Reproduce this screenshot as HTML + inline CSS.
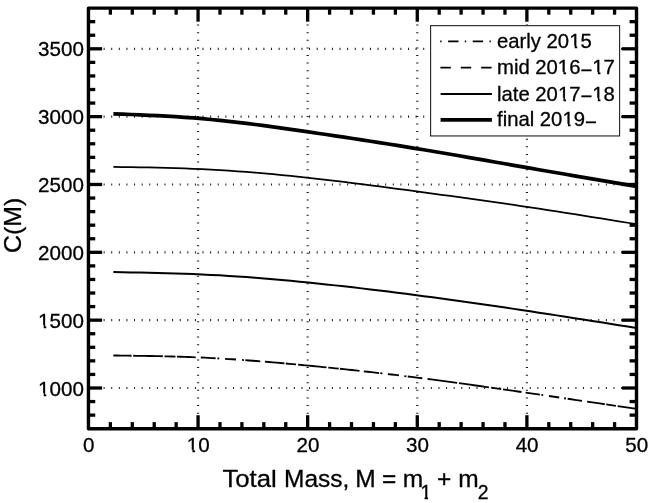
<!DOCTYPE html>
<html lang="en"><head><meta charset="utf-8"><title>C(M) vs Total Mass</title>
<style>html,body{margin:0;padding:0;background:#fff}body{width:650px;height:503px;overflow:hidden}</style>
</head><body>
<svg width="650" height="503" viewBox="0 0 650 503" style="display:block">
<rect x="0" y="0" width="650" height="503" fill="#fff"/>
<g stroke="#1a1a1a" stroke-width="2.2" fill="none">
<line x1="88.38" y1="388.00" x2="636.50" y2="388.00" stroke-dasharray="1.0 6.61"/>
<line x1="88.38" y1="320.16" x2="636.50" y2="320.16" stroke-dasharray="1.0 6.61"/>
<line x1="88.38" y1="252.32" x2="636.50" y2="252.32" stroke-dasharray="1.0 6.61"/>
<line x1="88.38" y1="184.48" x2="636.50" y2="184.48" stroke-dasharray="1.0 6.61"/>
<line x1="88.38" y1="116.64" x2="636.50" y2="116.64" stroke-dasharray="1.0 6.61"/>
<line x1="88.38" y1="48.80" x2="636.50" y2="48.80" stroke-dasharray="1.0 6.61"/>
<line x1="198.06" y1="428.90" x2="198.06" y2="8.10" stroke-dasharray="1.0 6.61"/>
<line x1="307.67" y1="428.90" x2="307.67" y2="8.10" stroke-dasharray="1.0 6.61"/>
<line x1="417.28" y1="428.90" x2="417.28" y2="8.10" stroke-dasharray="1.0 6.61"/>
<line x1="526.89" y1="428.90" x2="526.89" y2="8.10" stroke-dasharray="1.0 6.61"/>
</g>
<path d="M113.40 113.80 L122.27 114.15 L131.13 114.51 L140.00 114.88 L148.86 115.28 L157.73 115.71 L166.60 116.19 L175.46 116.72 L184.33 117.30 L193.19 117.96 L202.06 118.69 L210.93 119.50 L219.79 120.38 L228.66 121.33 L237.53 122.34 L246.39 123.41 L255.26 124.52 L264.12 125.68 L272.99 126.87 L281.86 128.10 L290.72 129.35 L299.59 130.63 L308.45 131.91 L317.32 133.21 L326.19 134.52 L335.05 135.84 L343.92 137.16 L352.78 138.51 L361.65 139.86 L370.52 141.23 L379.38 142.61 L388.25 144.01 L397.12 145.42 L405.98 146.85 L414.85 148.30 L423.71 149.77 L432.58 151.25 L441.45 152.75 L450.31 154.26 L459.18 155.79 L468.04 157.32 L476.91 158.86 L485.78 160.41 L494.64 161.96 L503.51 163.51 L512.37 165.07 L521.24 166.62 L530.11 168.16 L538.97 169.70 L547.84 171.23 L556.71 172.76 L565.57 174.29 L574.44 175.81 L583.30 177.33 L592.17 178.85 L601.04 180.36 L609.90 181.87 L618.77 183.38 L627.63 184.89 L636.50 186.40" stroke="#000" stroke-width="3.7" fill="none"/>
<path d="M113.40 166.90 L122.27 167.03 L131.13 167.17 L140.00 167.32 L148.86 167.48 L157.73 167.68 L166.60 167.89 L175.46 168.15 L184.33 168.45 L193.19 168.79 L202.06 169.19 L210.93 169.64 L219.79 170.14 L228.66 170.70 L237.53 171.31 L246.39 171.96 L255.26 172.67 L264.12 173.42 L272.99 174.21 L281.86 175.04 L290.72 175.92 L299.59 176.83 L308.45 177.79 L317.32 178.77 L326.19 179.79 L335.05 180.84 L343.92 181.92 L352.78 183.02 L361.65 184.14 L370.52 185.28 L379.38 186.44 L388.25 187.61 L397.12 188.79 L405.98 189.98 L414.85 191.17 L423.71 192.37 L432.58 193.57 L441.45 194.77 L450.31 195.98 L459.18 197.19 L468.04 198.42 L476.91 199.65 L485.78 200.89 L494.64 202.15 L503.51 203.42 L512.37 204.71 L521.24 206.01 L530.11 207.33 L538.97 208.67 L547.84 210.03 L556.71 211.40 L565.57 212.79 L574.44 214.19 L583.30 215.60 L592.17 217.02 L601.04 218.44 L609.90 219.88 L618.77 221.32 L627.63 222.76 L636.50 224.20" stroke="#000" stroke-width="1.75" fill="none"/>
<path d="M113.40 272.10 L122.27 272.24 L131.13 272.39 L140.00 272.55 L148.86 272.72 L157.73 272.92 L166.60 273.15 L175.46 273.40 L184.33 273.70 L193.19 274.04 L202.06 274.43 L210.93 274.88 L219.79 275.37 L228.66 275.91 L237.53 276.49 L246.39 277.12 L255.26 277.79 L264.12 278.51 L272.99 279.25 L281.86 280.04 L290.72 280.85 L299.59 281.70 L308.45 282.58 L317.32 283.48 L326.19 284.41 L335.05 285.37 L343.92 286.35 L352.78 287.36 L361.65 288.38 L370.52 289.43 L379.38 290.51 L388.25 291.60 L397.12 292.71 L405.98 293.84 L414.85 294.98 L423.71 296.15 L432.58 297.33 L441.45 298.52 L450.31 299.73 L459.18 300.96 L468.04 302.20 L476.91 303.46 L485.78 304.73 L494.64 306.01 L503.51 307.31 L512.37 308.62 L521.24 309.95 L530.11 311.29 L538.97 312.64 L547.84 314.00 L556.71 315.37 L565.57 316.75 L574.44 318.14 L583.30 319.53 L592.17 320.94 L601.04 322.34 L609.90 323.75 L618.77 325.17 L627.63 326.58 L636.50 328.00" stroke="#000" stroke-width="2.0" fill="none"/>
<path d="M113.40 355.50 L117.04 355.54 L120.68 355.59 L124.32 355.63 L127.96 355.68 L131.60 355.73" stroke="#000" stroke-width="1.85" fill="none"/>
<path d="M133.20 355.75 L136.90 355.80 L140.60 355.86 L144.30 355.92 L148.00 355.98 L151.70 356.04 L155.40 356.11 L159.10 356.19 L162.80 356.27" stroke="#000" stroke-width="1.85" fill="none"/>
<path d="M164.50 356.31 L168.17 356.40 L171.83 356.49 L175.50 356.60" stroke="#000" stroke-width="1.85" fill="none"/>
<path d="M177.00 356.64 L180.74 356.75 L184.48 356.88 L188.22 357.01 L191.96 357.15 L195.70 357.30" stroke="#000" stroke-width="1.85" fill="none"/>
<path d="M200.80 357.52 L204.50 357.69 L208.20 357.88 L211.90 358.07 L215.60 358.27" stroke="#000" stroke-width="1.85" fill="none"/>
<path d="M217.40 358.37 L219.20 358.47" stroke="#000" stroke-width="1.85" fill="none"/>
<path d="M225.00 358.82 L228.67 359.05 L232.33 359.28 L236.00 359.53" stroke="#000" stroke-width="1.85" fill="none"/>
<path d="M242.00 359.95 L243.90 360.08" stroke="#000" stroke-width="1.85" fill="none"/>
<path d="M245.30 360.18 L249.05 360.46 L252.80 360.74 L256.55 361.03 L260.30 361.33" stroke="#000" stroke-width="1.85" fill="none"/>
<path d="M264.90 361.70 L268.82 362.03 L272.74 362.36 L276.66 362.70 L280.58 363.04 L284.50 363.39" stroke="#000" stroke-width="1.85" fill="none"/>
<path d="M285.80 363.51 L289.20 363.82 L292.60 364.13 L296.00 364.44" stroke="#000" stroke-width="1.85" fill="none"/>
<path d="M298.10 364.64 L301.65 364.97 L305.20 365.31 L308.75 365.65 L312.30 366.00 L315.85 366.35 L319.40 366.69 L322.95 367.05 L326.50 367.40" stroke="#000" stroke-width="1.85" fill="none"/>
<path d="M328.30 367.59 L331.80 367.94 L335.30 368.30 L338.80 368.66" stroke="#000" stroke-width="1.85" fill="none"/>
<path d="M340.00 368.79 L343.90 369.19 L347.80 369.61 L351.70 370.02 L355.60 370.44 L359.50 370.87" stroke="#000" stroke-width="1.85" fill="none"/>
<path d="M363.80 371.34 L367.62 371.76 L371.45 372.19 L375.27 372.62 L379.10 373.06" stroke="#000" stroke-width="1.85" fill="none"/>
<path d="M380.30 373.20 L382.40 373.44" stroke="#000" stroke-width="1.85" fill="none"/>
<path d="M387.80 374.07 L391.53 374.51 L395.27 374.95 L399.00 375.40" stroke="#000" stroke-width="1.85" fill="none"/>
<path d="M404.40 376.05 L406.40 376.30" stroke="#000" stroke-width="1.85" fill="none"/>
<path d="M407.80 376.47 L411.43 376.92 L415.05 377.37 L418.68 377.83 L422.30 378.29" stroke="#000" stroke-width="1.85" fill="none"/>
<path d="M427.60 378.97 L431.29 379.45 L434.97 379.93 L438.66 380.41 L442.35 380.90 L446.04 381.39 L449.72 381.89 L453.41 382.39 L457.10 382.89" stroke="#000" stroke-width="1.85" fill="none"/>
<path d="M458.90 383.14 L462.65 383.65 L466.40 384.17 L470.15 384.69 L473.90 385.21 L477.65 385.74 L481.40 386.27 L485.15 386.80 L488.90 387.33" stroke="#000" stroke-width="1.85" fill="none"/>
<path d="M491.20 387.65 L494.53 388.13 L497.87 388.61 L501.20 389.08" stroke="#000" stroke-width="1.85" fill="none"/>
<path d="M503.00 389.34 L506.70 389.88 L510.40 390.41 L514.10 390.94 L517.80 391.48 L521.50 392.02" stroke="#000" stroke-width="1.85" fill="none"/>
<path d="M525.60 392.61 L529.18 393.13 L532.75 393.65 L536.32 394.17 L539.90 394.70" stroke="#000" stroke-width="1.85" fill="none"/>
<path d="M541.40 394.91 L543.20 395.18" stroke="#000" stroke-width="1.85" fill="none"/>
<path d="M549.00 396.02 L552.40 396.52 L555.80 397.02 L559.20 397.52" stroke="#000" stroke-width="1.85" fill="none"/>
<path d="M564.20 398.25 L566.00 398.51" stroke="#000" stroke-width="1.85" fill="none"/>
<path d="M567.70 398.76 L571.28 399.29 L574.85 399.81 L578.43 400.34 L582.00 400.86" stroke="#000" stroke-width="1.85" fill="none"/>
<path d="M587.10 401.61 L590.64 402.14 L594.18 402.66 L597.72 403.18 L601.26 403.70 L604.80 404.22" stroke="#000" stroke-width="1.85" fill="none"/>
<path d="M606.20 404.43 L609.43 404.91 L612.67 405.38 L615.90 405.86" stroke="#000" stroke-width="1.85" fill="none"/>
<path d="M617.70 406.13 L621.20 406.64 L624.70 407.16 L628.20 407.67 L631.70 408.19 L635.20 408.71" stroke="#000" stroke-width="1.85" fill="none"/>
<g stroke="#000" stroke-width="3.3" fill="none">
<line x1="110.37" y1="428.70" x2="110.37" y2="422.10"/>
<line x1="110.37" y1="8.10" x2="110.37" y2="14.70"/>
<line x1="132.29" y1="428.70" x2="132.29" y2="422.10"/>
<line x1="132.29" y1="8.10" x2="132.29" y2="14.70"/>
<line x1="154.22" y1="428.70" x2="154.22" y2="422.10"/>
<line x1="154.22" y1="8.10" x2="154.22" y2="14.70"/>
<line x1="176.14" y1="428.70" x2="176.14" y2="422.10"/>
<line x1="176.14" y1="8.10" x2="176.14" y2="14.70"/>
<line x1="198.06" y1="428.70" x2="198.06" y2="415.20"/>
<line x1="198.06" y1="8.10" x2="198.06" y2="21.70"/>
<line x1="219.98" y1="428.70" x2="219.98" y2="422.10"/>
<line x1="219.98" y1="8.10" x2="219.98" y2="14.70"/>
<line x1="241.90" y1="428.70" x2="241.90" y2="422.10"/>
<line x1="241.90" y1="8.10" x2="241.90" y2="14.70"/>
<line x1="263.83" y1="428.70" x2="263.83" y2="422.10"/>
<line x1="263.83" y1="8.10" x2="263.83" y2="14.70"/>
<line x1="285.75" y1="428.70" x2="285.75" y2="422.10"/>
<line x1="285.75" y1="8.10" x2="285.75" y2="14.70"/>
<line x1="307.67" y1="428.70" x2="307.67" y2="415.20"/>
<line x1="307.67" y1="8.10" x2="307.67" y2="21.70"/>
<line x1="329.59" y1="428.70" x2="329.59" y2="422.10"/>
<line x1="329.59" y1="8.10" x2="329.59" y2="14.70"/>
<line x1="351.51" y1="428.70" x2="351.51" y2="422.10"/>
<line x1="351.51" y1="8.10" x2="351.51" y2="14.70"/>
<line x1="373.44" y1="428.70" x2="373.44" y2="422.10"/>
<line x1="373.44" y1="8.10" x2="373.44" y2="14.70"/>
<line x1="395.36" y1="428.70" x2="395.36" y2="422.10"/>
<line x1="395.36" y1="8.10" x2="395.36" y2="14.70"/>
<line x1="417.28" y1="428.70" x2="417.28" y2="415.20"/>
<line x1="417.28" y1="8.10" x2="417.28" y2="21.70"/>
<line x1="439.20" y1="428.70" x2="439.20" y2="422.10"/>
<line x1="439.20" y1="8.10" x2="439.20" y2="14.70"/>
<line x1="461.12" y1="428.70" x2="461.12" y2="422.10"/>
<line x1="461.12" y1="8.10" x2="461.12" y2="14.70"/>
<line x1="483.05" y1="428.70" x2="483.05" y2="422.10"/>
<line x1="483.05" y1="8.10" x2="483.05" y2="14.70"/>
<line x1="504.97" y1="428.70" x2="504.97" y2="422.10"/>
<line x1="504.97" y1="8.10" x2="504.97" y2="14.70"/>
<line x1="526.89" y1="428.70" x2="526.89" y2="415.20"/>
<line x1="526.89" y1="8.10" x2="526.89" y2="21.70"/>
<line x1="548.81" y1="428.70" x2="548.81" y2="422.10"/>
<line x1="548.81" y1="8.10" x2="548.81" y2="14.70"/>
<line x1="570.73" y1="428.70" x2="570.73" y2="422.10"/>
<line x1="570.73" y1="8.10" x2="570.73" y2="14.70"/>
<line x1="592.66" y1="428.70" x2="592.66" y2="422.10"/>
<line x1="592.66" y1="8.10" x2="592.66" y2="14.70"/>
<line x1="614.58" y1="428.70" x2="614.58" y2="422.10"/>
<line x1="614.58" y1="8.10" x2="614.58" y2="14.70"/>
<line x1="88.45" y1="415.13" x2="95.25" y2="415.13"/>
<line x1="636.50" y1="415.13" x2="629.60" y2="415.13"/>
<line x1="88.45" y1="401.56" x2="95.25" y2="401.56"/>
<line x1="636.50" y1="401.56" x2="629.60" y2="401.56"/>
<line x1="88.45" y1="388.00" x2="102.10" y2="388.00"/>
<line x1="636.50" y1="388.00" x2="622.00" y2="388.00"/>
<line x1="88.45" y1="374.43" x2="95.25" y2="374.43"/>
<line x1="636.50" y1="374.43" x2="629.60" y2="374.43"/>
<line x1="88.45" y1="360.86" x2="95.25" y2="360.86"/>
<line x1="636.50" y1="360.86" x2="629.60" y2="360.86"/>
<line x1="88.45" y1="347.29" x2="95.25" y2="347.29"/>
<line x1="636.50" y1="347.29" x2="629.60" y2="347.29"/>
<line x1="88.45" y1="333.73" x2="95.25" y2="333.73"/>
<line x1="636.50" y1="333.73" x2="629.60" y2="333.73"/>
<line x1="88.45" y1="320.16" x2="102.10" y2="320.16"/>
<line x1="636.50" y1="320.16" x2="622.00" y2="320.16"/>
<line x1="88.45" y1="306.59" x2="95.25" y2="306.59"/>
<line x1="636.50" y1="306.59" x2="629.60" y2="306.59"/>
<line x1="88.45" y1="293.02" x2="95.25" y2="293.02"/>
<line x1="636.50" y1="293.02" x2="629.60" y2="293.02"/>
<line x1="88.45" y1="279.45" x2="95.25" y2="279.45"/>
<line x1="636.50" y1="279.45" x2="629.60" y2="279.45"/>
<line x1="88.45" y1="265.89" x2="95.25" y2="265.89"/>
<line x1="636.50" y1="265.89" x2="629.60" y2="265.89"/>
<line x1="88.45" y1="252.32" x2="102.10" y2="252.32"/>
<line x1="636.50" y1="252.32" x2="622.00" y2="252.32"/>
<line x1="88.45" y1="238.75" x2="95.25" y2="238.75"/>
<line x1="636.50" y1="238.75" x2="629.60" y2="238.75"/>
<line x1="88.45" y1="225.18" x2="95.25" y2="225.18"/>
<line x1="636.50" y1="225.18" x2="629.60" y2="225.18"/>
<line x1="88.45" y1="211.62" x2="95.25" y2="211.62"/>
<line x1="636.50" y1="211.62" x2="629.60" y2="211.62"/>
<line x1="88.45" y1="198.05" x2="95.25" y2="198.05"/>
<line x1="636.50" y1="198.05" x2="629.60" y2="198.05"/>
<line x1="88.45" y1="184.48" x2="102.10" y2="184.48"/>
<line x1="636.50" y1="184.48" x2="622.00" y2="184.48"/>
<line x1="88.45" y1="170.91" x2="95.25" y2="170.91"/>
<line x1="636.50" y1="170.91" x2="629.60" y2="170.91"/>
<line x1="88.45" y1="157.35" x2="95.25" y2="157.35"/>
<line x1="636.50" y1="157.35" x2="629.60" y2="157.35"/>
<line x1="88.45" y1="143.78" x2="95.25" y2="143.78"/>
<line x1="636.50" y1="143.78" x2="629.60" y2="143.78"/>
<line x1="88.45" y1="130.21" x2="95.25" y2="130.21"/>
<line x1="636.50" y1="130.21" x2="629.60" y2="130.21"/>
<line x1="88.45" y1="116.64" x2="102.10" y2="116.64"/>
<line x1="636.50" y1="116.64" x2="622.00" y2="116.64"/>
<line x1="88.45" y1="103.07" x2="95.25" y2="103.07"/>
<line x1="636.50" y1="103.07" x2="629.60" y2="103.07"/>
<line x1="88.45" y1="89.51" x2="95.25" y2="89.51"/>
<line x1="636.50" y1="89.51" x2="629.60" y2="89.51"/>
<line x1="88.45" y1="75.94" x2="95.25" y2="75.94"/>
<line x1="636.50" y1="75.94" x2="629.60" y2="75.94"/>
<line x1="88.45" y1="62.37" x2="95.25" y2="62.37"/>
<line x1="636.50" y1="62.37" x2="629.60" y2="62.37"/>
<line x1="88.45" y1="48.80" x2="102.10" y2="48.80"/>
<line x1="636.50" y1="48.80" x2="622.00" y2="48.80"/>
<line x1="88.45" y1="35.24" x2="95.25" y2="35.24"/>
<line x1="636.50" y1="35.24" x2="629.60" y2="35.24"/>
<line x1="88.45" y1="21.67" x2="95.25" y2="21.67"/>
<line x1="636.50" y1="21.67" x2="629.60" y2="21.67"/>
</g>
<rect x="88.45" y="8.10" width="548.05" height="420.60" fill="none" stroke="#000" stroke-width="3.4" stroke-linejoin="round"/>
<rect x="430.6" y="25.65" width="189.0" height="110.3" fill="#fff" stroke="#222" stroke-width="1.1"/>
<line x1="440.2" y1="41.4" x2="491.2" y2="41.4" stroke="#000" stroke-width="1.8" stroke-dasharray="1.4 6.5 10.4 6.3"/>
<line x1="440.4" y1="67.7" x2="491.7" y2="67.7" stroke="#000" stroke-width="1.8" stroke-dasharray="10.4 10"/>
<line x1="440.6" y1="93.95" x2="491.9" y2="93.95" stroke="#000" stroke-width="1.9"/>
<line x1="440.6" y1="119.9" x2="491.9" y2="119.9" stroke="#000" stroke-width="3.8"/>
<g font-family="Liberation Sans, Arial, Helvetica, sans-serif" font-size="20.3" fill="#000" stroke="#000" stroke-width="0.3">
<text x="497.0" y="48.4" text-anchor="start">early 2015</text>
<text x="497.0" y="74.4" text-anchor="start">mid 2016<tspan dy="2.6">−</tspan><tspan dy="-2.6">17</tspan></text>
<text x="497.0" y="100.5" text-anchor="start">late 2017<tspan dy="2.6">−</tspan><tspan dy="-2.6">18</tspan></text>
<text x="497.0" y="126.4" text-anchor="start">final 2019<tspan dy="2.6">−</tspan></text>
<text x="83.9" y="395.6" text-anchor="end" font-size="20.6">1000</text>
<text x="83.9" y="327.8" text-anchor="end" font-size="20.6">1500</text>
<text x="83.9" y="259.9" text-anchor="end" font-size="20.6">2000</text>
<text x="83.9" y="192.1" text-anchor="end" font-size="20.6">2500</text>
<text x="83.9" y="124.2" text-anchor="end" font-size="20.6">3000</text>
<text x="83.9" y="56.4" text-anchor="end" font-size="20.6">3500</text>
<text x="88.7" y="452.4" text-anchor="middle" font-size="20.6">0</text>
<text x="198.3" y="452.4" text-anchor="middle" font-size="20.6">10</text>
<text x="307.9" y="452.4" text-anchor="middle" font-size="20.6">20</text>
<text x="417.5" y="452.4" text-anchor="middle" font-size="20.6">30</text>
<text x="527.1" y="452.4" text-anchor="middle" font-size="20.6">40</text>
<text x="636.7" y="452.4" text-anchor="middle" font-size="20.6">50</text>
</g>
<g font-family="Liberation Sans, Arial, Helvetica, sans-serif" font-size="24.5" fill="#000" stroke="#000" stroke-width="0.3">
<text x="222.4" y="486.7" textLength="54.4" lengthAdjust="spacingAndGlyphs">Total</text>
<text x="284.0" y="486.7">Mass,</text>
<text x="355.3" y="486.7">M</text>
<text x="382" y="486.7">=</text>
<text x="402.8" y="486.7">m</text>
<clipPath id="c1"><rect x="415" y="470" width="25" height="26.9"/><rect x="424.6" y="496" width="3.4" height="6"/></clipPath>
<text x="420.5" y="498.8" font-size="19.4" clip-path="url(#c1)">1</text>
<text x="437" y="486.7">+</text>
<text x="458.2" y="486.7">m</text>
<text x="477.8" y="498.8" font-size="19.4">2</text>
<text transform="translate(20.7 252.9) rotate(-90)" x="0" y="0" textLength="55.2" lengthAdjust="spacingAndGlyphs">C(M)</text>
</g>
<g fill="#fff" stroke="none"><rect x="569.95" y="45.76" width="4.71" height="5.28"/><rect x="577.26" y="45.76" width="3.17" height="5.28"/><rect x="558.67" y="71.76" width="4.71" height="5.28"/><rect x="565.98" y="71.76" width="3.17" height="5.28"/><rect x="593.11" y="71.76" width="4.71" height="5.28"/><rect x="600.42" y="71.76" width="3.17" height="5.28"/><rect x="558.70" y="97.86" width="4.71" height="5.28"/><rect x="566.01" y="97.86" width="3.17" height="5.28"/><rect x="593.12" y="97.86" width="4.71" height="5.28"/><rect x="600.43" y="97.86" width="3.17" height="5.28"/><rect x="563.20" y="123.76" width="4.71" height="5.28"/><rect x="570.51" y="123.76" width="3.17" height="5.28"/><rect x="38.90" y="392.92" width="4.78" height="5.36"/><rect x="46.31" y="392.92" width="3.21" height="5.36"/><rect x="38.90" y="325.12" width="4.78" height="5.36"/><rect x="46.31" y="325.12" width="3.21" height="5.36"/><rect x="187.66" y="449.72" width="4.78" height="5.36"/><rect x="195.08" y="449.72" width="3.21" height="5.36"/></g>
</svg>
</body></html>
